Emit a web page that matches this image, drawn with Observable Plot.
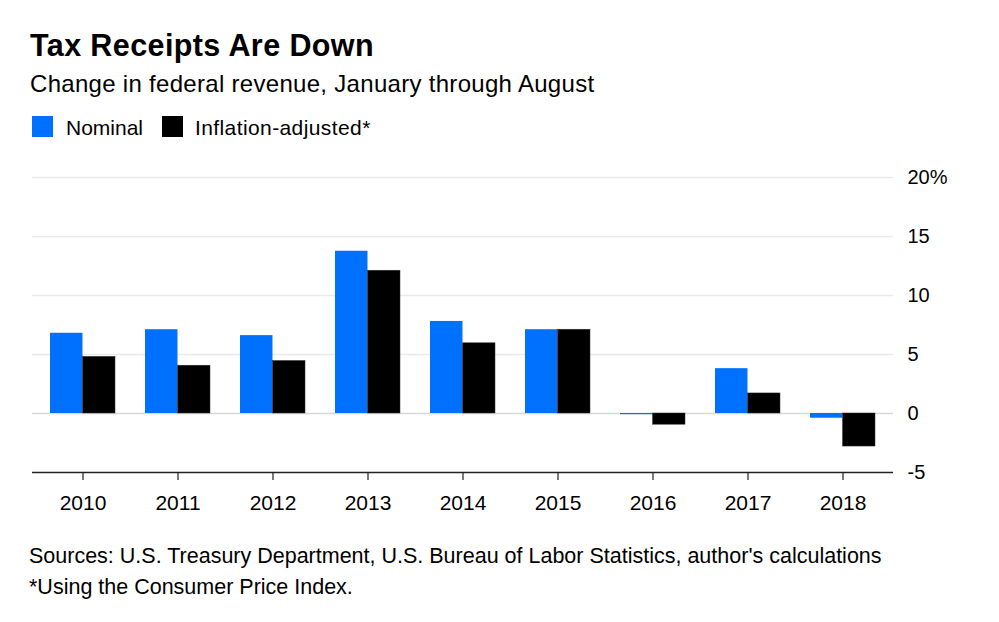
<!DOCTYPE html>
<html>
<head>
<meta charset="utf-8">
<script src="https://cdn.jsdelivr.net/npm/d3@7"></script>
<script src="https://cdn.jsdelivr.net/npm/@observablehq/plot@0.6"></script>
<style>
  html, body { margin: 0; padding: 0; background: #fff; }
  body { width: 999px; height: 622px; position: relative; overflow: hidden;
         font-family: "Liberation Sans", Arial, Helvetica, sans-serif; color: #000; }
  .abs { position: absolute; line-height: 1; white-space: nowrap; }
  #title { left: 30px; top: 30px; font-size: 30.5px; font-weight: bold; letter-spacing: 0.4px; }
  #subtitle { left: 30px; top: 71.5px; font-size: 24px; letter-spacing: 0.3px; }
  .sw { position: absolute; width: 21px; height: 21px; top: 116px; }
  .lg { top: 117px; font-size: 21px; }
  #chart { position: absolute; left: 0; top: 150px; }
  .foot { left: 29px; font-size: 21.5px; }
</style>
</head>
<body>
<div id="title" class="abs">Tax Receipts Are Down</div>
<div id="subtitle" class="abs">Change in federal revenue, January through August</div>
<div class="sw" style="left:32px;background:#0070ff"></div>
<div class="abs lg" style="left:66px">Nominal</div>
<div class="sw" style="left:162px;background:#000"></div>
<div class="abs lg" style="left:195px;letter-spacing:0.4px">Inflation-adjusted*</div>
<div id="chart"></div>
<div class="abs foot" style="top:546px">Sources: U.S. Treasury Department, U.S. Bureau of Labor Statistics, author's calculations</div>
<div class="abs foot" style="top:577px">*Using the Consumer Price Index.</div>
<script>
const years = ["2010","2011","2012","2013","2014","2015","2016","2017","2018"];
const nominal = [6.8, 7.1, 6.6, 13.75, 7.8, 7.1, -0.1, 3.8, -0.4];
const inflationAdjusted = [4.8, 4.05, 4.45, 12.1, 5.95, 7.1, -0.95, 1.7, -2.8];
const yTicks = [-5, 0, 5, 10, 15, 20];

const rows = years.map((year, i) => ({year, nominal: nominal[i], adjusted: inflationAdjusted[i]}));

const W = 999, H = 372, mL = 32, mR = 106;
const step = (W - mL - mR) / 9;
const half = step * 0.68 / 2;

const chart = Plot.plot({
  width: W,
  height: H,
  marginLeft: mL,
  marginRight: mR,
  marginTop: 27,
  marginBottom: 50,
  style: {fontFamily: '"Liberation Sans", Arial, sans-serif', color: "#000", background: "#fff"},
  x: {domain: years, paddingInner: 0.32, paddingOuter: 0.16, label: null},
  y: {domain: [-5, 20], label: null},
  marks: [
    Plot.ruleY(yTicks.filter(d => d > 0), {stroke: "#ebebeb", strokeWidth: 1.5}),
    Plot.ruleY([0], {stroke: "#d8d8d8", strokeWidth: 1.5}),
    Plot.barY(rows, {x: "year", y: "nominal", fill: "#0070ff", insetRight: half}),
    Plot.barY(rows, {x: "year", y: "adjusted", fill: "#000", stroke: "#333", strokeWidth: 0.5, insetLeft: half}),
    Plot.ruleY([-5], {stroke: "#222", strokeWidth: 1.5}),
    Plot.axisX({tickSize: 8, tickPadding: 15, fontSize: 21, stroke: "#222", strokeWidth: 1.2}),
    Plot.axisY(yTicks, {anchor: "right", tickSize: 0, tickPadding: 14, fontSize: 20,
      tickFormat: d => d === 20 ? "20%" : String(d)})
  ]
});
document.getElementById("chart").appendChild(chart);
</script>
</body>
</html>
